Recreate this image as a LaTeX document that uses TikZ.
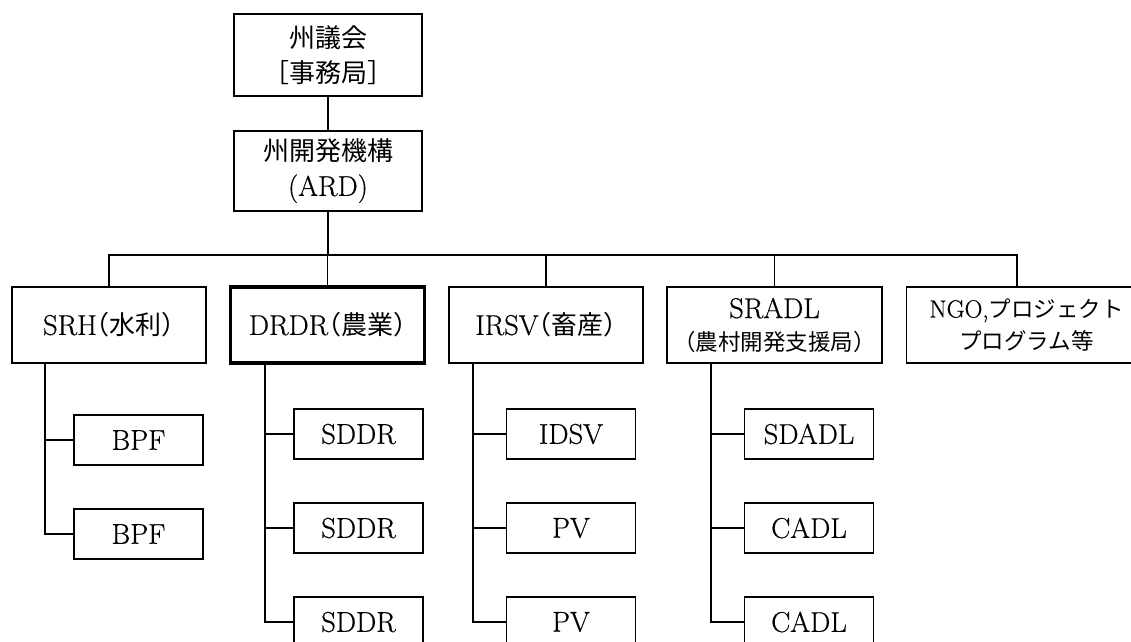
\documentclass[tikz,border=0pt]{standalone}
\usepackage{fontspec}
\setmainfont{Latin Modern Roman}[Scale=1.1,FakeBold=0.6]
\newfontfamily\jp{Noto Sans CJK JP}
\newfontfamily\jph{Noto Sans CJK JP}[RawFeature=+halt]
\begin{document}
\begin{tikzpicture}[x=1pt,y=-1pt,
    box/.style={draw,line width=1.1pt,inner sep=0pt,align=center,
      font=\fontsize{26}{35}\selectfont},
    rowbox/.style={box,minimum width=194pt,minimum height=76pt},
    subbox/.style={box,minimum width=129pt,minimum height=50pt}]
  \useasboundingbox (0,0) rectangle (1131,641);
  % top of the chart
  \node[box,minimum width=188pt,minimum height=82pt] (council) at (328,55)
    {{\jp 州議会}\\{\jp ［事務局］}};
  \node[box,minimum width=188pt,minimum height=80pt] (ard) at (328,171)
    {{\jp 州開発機構}\\(ARD)};
  % second row
  \node[rowbox] (srh) at (109,325) {SRH{\jph （水利）}};
  \node[rowbox,line width=3.5pt] (drdr) at (327.5,325) {DRDR{\jph （農業）}};
  \node[rowbox] (irsv) at (546,325) {IRSV{\jph （畜産）}};
  \node[rowbox,minimum width=215pt,font=\fontsize{26}{32}\selectfont] (sradl) at (774.5,325)
    {SRADL\\{\jph\fontsize{22.5}{32}\selectfont （農村開発支援局）}};
  \node[rowbox,anchor=west,minimum width=240pt,font=\fontsize{22.5}{32}\selectfont] (ngo) at (906,325)
    {NGO,{\jp プロジェクト}\\{\jp プログラム等}};
  % third row
  \node[subbox] (bpf1) at (138.5,440) {BPF};
  \node[subbox] (bpf2) at (138.5,534) {BPF};
  \node[subbox] (sddr1) at (358.5,434) {SDDR};
  \node[subbox] (sddr2) at (358.5,528) {SDDR};
  \node[subbox] (sddr3) at (358.5,622) {SDDR};
  \node[subbox] (idsv) at (571,434) {IDSV};
  \node[subbox] (pv1) at (571,528) {PV};
  \node[subbox] (pv2) at (571,622) {PV};
  \node[subbox] (sdadl) at (809,434) {SDADL};
  \node[subbox] (cadl1) at (809,528) {CADL};
  \node[subbox] (cadl2) at (809,622) {CADL};
  \coordinate (busl) at (109,255);
  \coordinate (busr) at (1017,255);
  \coordinate (srht) at (45,363);
  \coordinate (drdrt) at (265,363);
  \coordinate (irsvt) at (473,363);
  \coordinate (sradlt) at (711,363);
  \begin{scope}[line width=1.1pt]
    \draw (council) -- (ard);
    \draw (ard) -- (ard |- busl);
    \draw (srh.north) -- (busl) -- (busr) -- (busr |- ngo.north);
    \draw (drdr.north) -- (drdr.north |- busl);
    \draw (irsv.north) -- (irsv.north |- busl);
    \draw (sradl.north) -- (sradl.north |- busl);
    \draw (srht) |- (bpf2.west);
    \draw (bpf1.west) -- (bpf1.west -| srht);
    \draw (drdrt) |- (sddr3.west);
    \draw (sddr1.west) -- (sddr1.west -| drdrt);
    \draw (sddr2.west) -- (sddr2.west -| drdrt);
    \draw (irsvt) |- (pv2.west);
    \draw (idsv.west) -- (idsv.west -| irsvt);
    \draw (pv1.west) -- (pv1.west -| irsvt);
    \draw (sradlt) |- (cadl2.west);
    \draw (sdadl.west) -- (sdadl.west -| sradlt);
    \draw (cadl1.west) -- (cadl1.west -| sradlt);
  \end{scope}
\end{tikzpicture}
\end{document}
